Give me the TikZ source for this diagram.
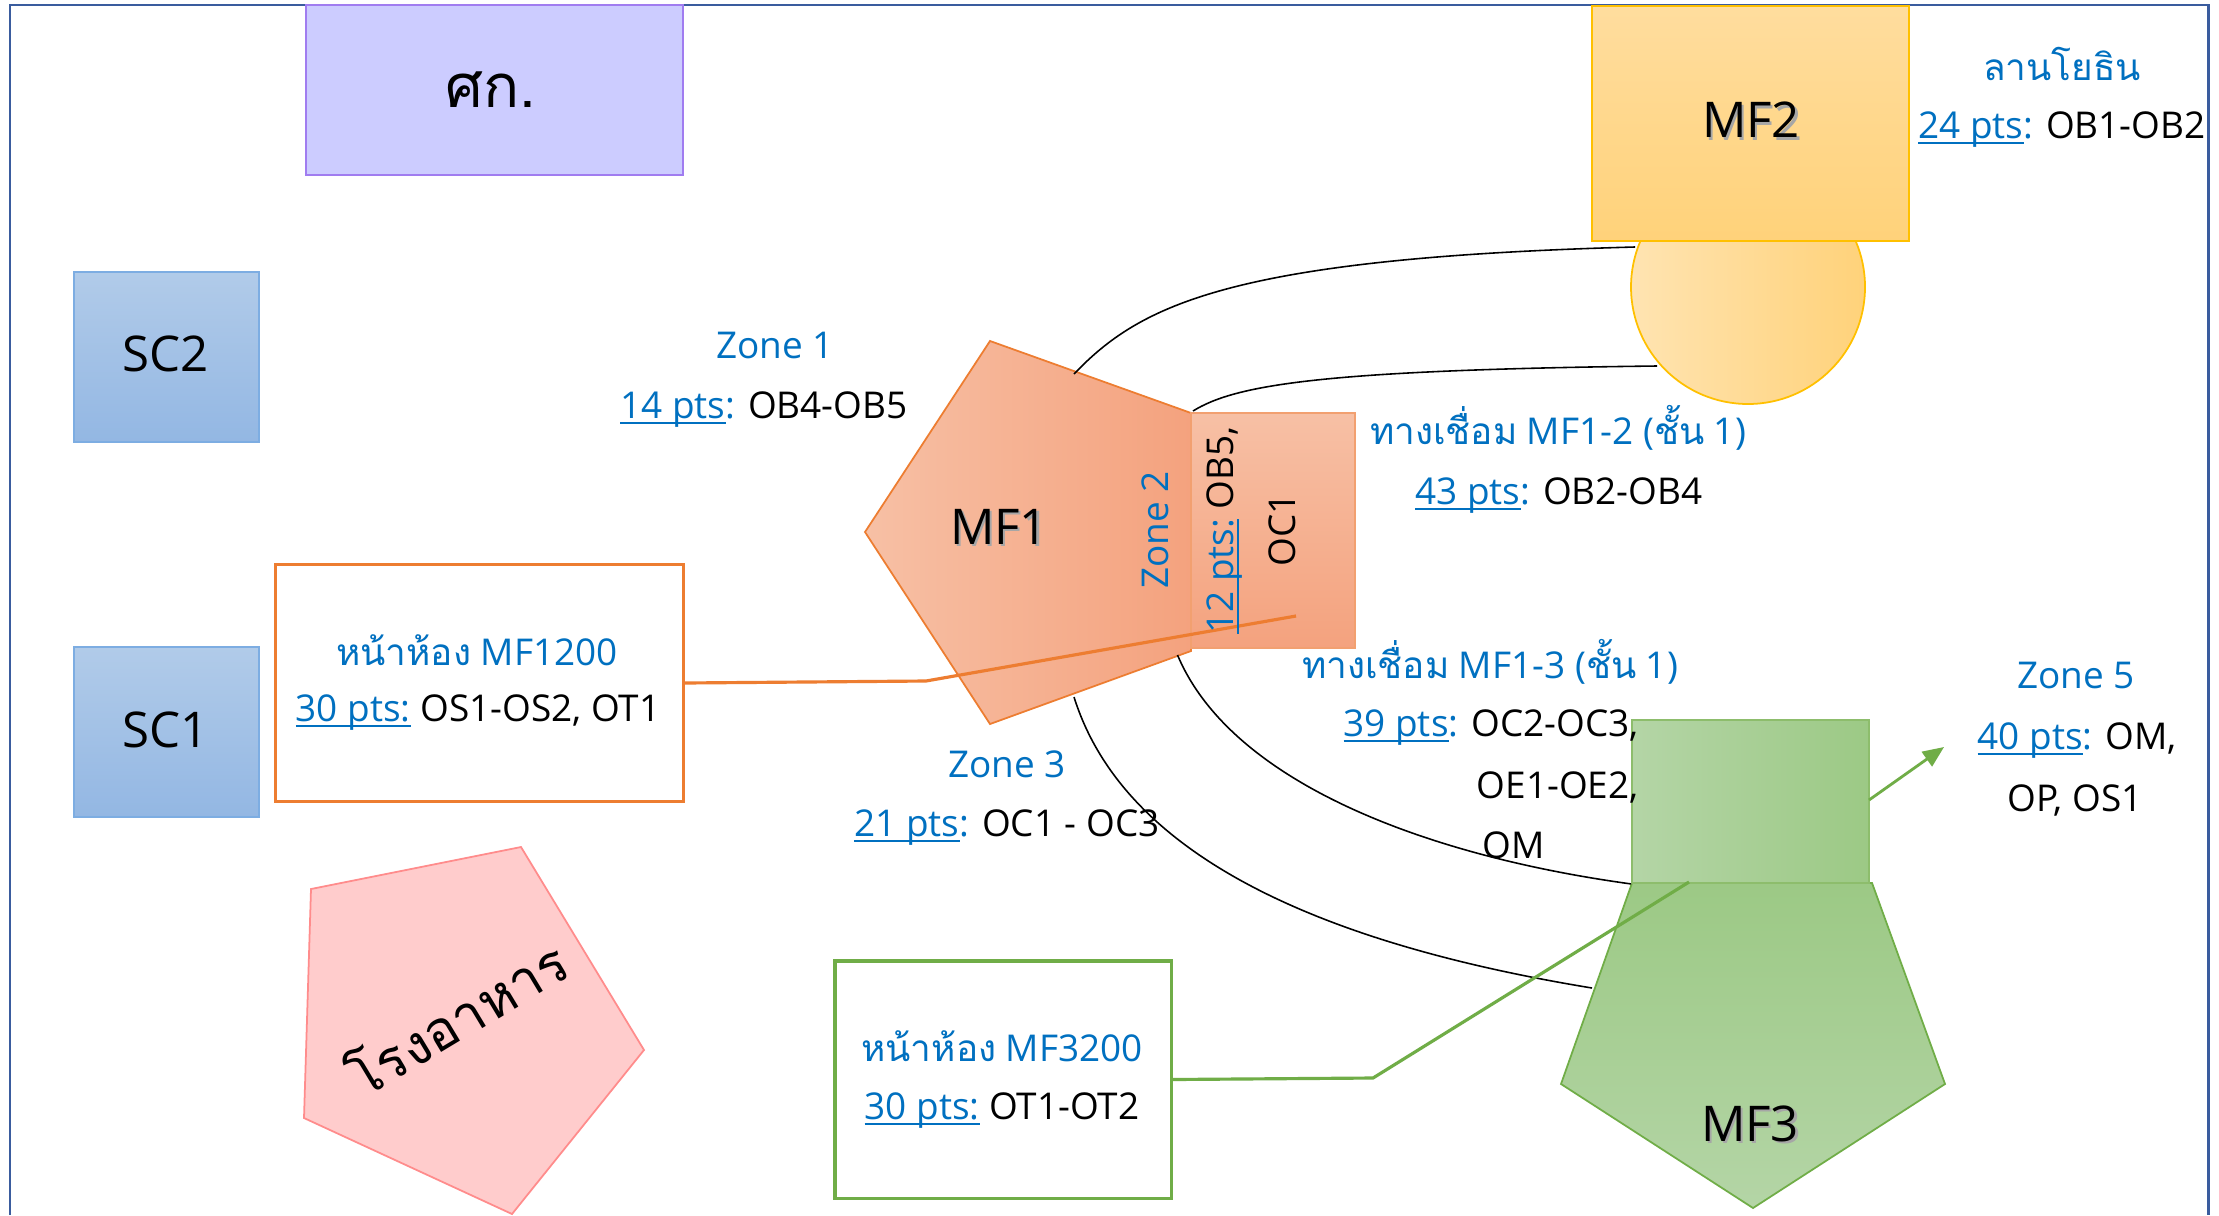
\documentclass[tikz,border=0pt]{standalone}
\usepackage{fontspec}
\setmainfont{Open Sans}
\newfontfamily\thai[Script=Thai]{Loma}
\usetikzlibrary{arrows.meta}
\definecolor{zblue}{HTML}{0070C0}
\definecolor{frameblue}{HTML}{3A5C9E}
\definecolor{lav}{HTML}{CCCCFF}
\definecolor{lavd}{HTML}{A07CF0}
\definecolor{scT}{HTML}{B1CBE9}
\definecolor{scB}{HTML}{93B7E3}
\definecolor{scD}{HTML}{7DADE2}
\definecolor{orD}{HTML}{ED7D31}
\definecolor{orL}{HTML}{F7C0A5}
\definecolor{orR}{HTML}{F4A27E}
\definecolor{orE}{HTML}{F2A070}
\definecolor{goT}{HTML}{FFDD9E}
\definecolor{goB}{HTML}{FFD27A}
\definecolor{goD}{HTML}{FFC000}
\definecolor{grL}{HTML}{B4D5A6}
\definecolor{grR}{HTML}{9CC985}
\definecolor{grD}{HTML}{70AD47}
\definecolor{pkF}{HTML}{FFCCCC}
\definecolor{pkD}{HTML}{FF8C8C}
\newcommand\ulx[1]{\setbox0\hbox{#1}\rlap{\rule[-1.5pt]{\wd0}{0.5pt}}\box0\relax}
\newcommand\shd[1]{\leavevmode\rlap{\kern0.7pt\raisebox{-0.7pt}{\textcolor{black!35}{#1}}}#1}
\newcommand\blk[1]{\textcolor{black}{#1}}
\begin{document}
\begin{tikzpicture}[x=0.01cm,y=-0.01cm,
  lbl/.style={font=\fontsize{10.5}{12.6}\selectfont, text=zblue, inner sep=0pt},
  big/.style={font=\fontsize{14}{16.8}\selectfont, inner sep=0pt, text=black},
  thinb/.style={line width=0.5pt},
  boxb/.style={line width=0.9pt, fill=white},
  conn/.style={line width=0.45pt, black},
  rectn/.style={rectangle, inner sep=0pt, thinb}]
\useasboundingbox (0,0) rectangle (2219,1215);
\fill[white] (0,0) rectangle (2219,1215);
% frame
\draw[frameblue, line width=0.85pt] (10,1215) -- (10,5) -- (2208,5) -- (2208,1215);

% rectangles
\node[rectn, draw=lavd, fill=lav, minimum width=3.77cm, minimum height=1.70cm] (sk) at (494.5,90) {};
\node[rectn, draw=scD, top color=scT, bottom color=scB, minimum width=1.85cm, minimum height=1.70cm] (sc2) at (166.5,357) {};
\node[rectn, draw=scD, top color=scT, bottom color=scB, minimum width=1.85cm, minimum height=1.70cm] (sc1) at (166.5,732) {};
\node[rectn, boxb, draw=orD, minimum width=4.07cm, minimum height=2.365cm] (b1200) at (479.5,683) {};
\node[rectn, boxb, draw=grD, minimum width=3.36cm, minimum height=2.37cm] (b3200) at (1003,1079.5) {};

% MF1 pentagon
\coordinate (m1t) at (990,341);
\coordinate (m1rt) at (1191,413);
\coordinate (m1rb) at (1191,651);
\coordinate (m1b) at (990,724);
\coordinate (m1l) at (865,532);
\path[draw=orD, thinb, left color=orL, right color=orR] (m1t) -- (m1rt) -- (m1rb) -- (m1b) -- (m1l) -- cycle;
% Zone 2 rectangle
\node[rectn, draw=orE, top color=orL, bottom color=orR, minimum width=1.64cm, minimum height=2.35cm] (z2r) at (1273,530.5) {};

% MF2 circle and rectangle
\coordinate (c2) at (1748,287);
\path[draw=goD, thinb, left color=goT!80!white, right color=goB] (c2) circle[radius=117];
\node[rectn, draw=goD, top color=goT, bottom color=goB, minimum width=3.17cm, minimum height=2.35cm] (mf2) at (1750.5,123.5) {};

% MF3 pentagon and rectangle
\coordinate (m3tl) at (1632,883);
\coordinate (m3tr) at (1872,883);
\coordinate (m3r) at (1945,1084);
\coordinate (m3b) at (1753,1208);
\coordinate (m3l) at (1561,1084);
\path[draw=grD, thinb, top color=grR, bottom color=grL] (m3tl) -- (m3tr) -- (m3r) -- (m3b) -- (m3l) -- cycle;
\node[rectn, draw=grD!80!white, left color=grL, right color=grR, minimum width=2.37cm, minimum height=1.63cm] (mf3r) at (1750.5,801.5) {};

% canteen pentagon
\coordinate (p1) at (311,889);
\coordinate (p2) at (521,847);
\coordinate (p3) at (644,1050);
\coordinate (p4) at (512,1214);
\coordinate (p5) at (304,1118);
\path[draw=pkD, thinb, fill=pkF] (p1) -- (p2) -- (p3) -- (p4) -- (p5) -- cycle;

% black connectors
\coordinate (a0) at (1074,374);
\coordinate (a1) at (1635,247);
\coordinate (bb0) at (1193,411);
\coordinate (bb1) at (1657,366);
\coordinate (cc0) at (1177.5,655);
\coordinate (dd0) at (1074,697);
\coordinate (dd1) at (1592,988);
\draw[conn] (a0) .. controls (1140,305) and (1230,258) .. (a1);
\draw[conn] (bb0) .. controls (1235,385) and (1320,370) .. (bb1);
\draw[conn] (cc0) .. controls (1230,780) and (1420,855) .. (mf3r.south west);
\draw[conn] (dd0) .. controls (1125,860) and (1330,945) .. (dd1);

% orange connector
\coordinate (o1) at (926,681);
\coordinate (o2) at (1296,616);
\draw[orD, line width=0.9pt] (b1200.east) -- (o1) -- (o2);
% green connector
\coordinate (g1) at (1373,1078);
\coordinate (g2) at (1689,882);
\draw[grD, line width=0.9pt] (b3200.east) -- (g1) -- (g2);
% green arrow
\coordinate (ga0) at (1869,800);
\coordinate (ga1) at (1944,747);
\draw[grD, line width=0.8pt, -{Triangle[length=6pt,width=5pt]}] (ga0) -- (ga1);

% big labels
\node[big] (tsk) at (491,90) {\thai\fontsize{17}{20}\selectfont ศก.};
\node[big] (tsc2) at (166,354) {SC2};
\node[big] (tsc1) at (166,730) {SC1};
\node[big] (tmf1) at (999,528) {\shd{MF1}};
\node[big] (tmf2) at (1751,121) {\shd{MF2}};
\node[big] (tmf3) at (1750,1125) {\shd{MF3}};
\node[big, rotate=31] (tcan) at (456,1016) {\thai\fontsize{15.5}{18}\selectfont โรงอาหาร};

% blue labels
\node[lbl] (z1) at (775,345) {Zone 1};
\node[lbl] (z1p) at (764,410) {\ulx{14 pts}: \blk{OB4-OB5}};
\node[lbl, rotate=90] (z2) at (1155,530) {Zone 2};
\node[lbl, rotate=90, align=center] (z2p) at (1251,530) {\ulx{12 pts:} \blk{OB5,}\\[5pt]\blk{OC1}};
\node[lbl] (ly) at (2062,64) {\thai ลานโยธิน};
\node[lbl] (lyp) at (2062,130) {\ulx{24 pts}: \blk{OB1-OB2}};
\node[lbl] (w12) at (1558,428) {{\thai ทางเชื่อม} MF1-2 ({\thai ชั้น} 1)};
\node[lbl] (w12p) at (1559,496) {\ulx{43 pts}: \blk{OB2-OB4}};
\node[lbl] (w13) at (1490,662) {{\thai ทางเชื่อม} MF1-3 ({\thai ชั้น} 1)};
\node[lbl] (w13p) at (1491,728) {\ulx{39 pts}: \blk{OC2-OC3,}};
\node[lbl, anchor=west] (w13q) at (1476,787) {\blk{OE1-OE2,}};
\node[lbl, anchor=west] (w13r) at (1482,845) {\blk{OM}};
\node[lbl] (z3) at (1007,764) {Zone 3};
\node[lbl] (z3p) at (1007,828) {\ulx{21 pts}: \blk{OC1 - OC3}};
\node[lbl] (z5) at (2076,675) {Zone 5};
\node[lbl] (z5p) at (2077,741) {\ulx{40 pts}: \blk{OM,}};
\node[lbl] (z5q) at (2075,800) {\blk{OP, OS1}};
\node[lbl] (r12) at (477,650) {{\thai หน้าห้อง} MF1200};
\node[lbl] (r12p) at (478,713) {\ulx{30 pts:} \blk{OS1-OS2, OT1}};
\node[lbl] (r32) at (1002,1046) {{\thai หน้าห้อง} MF3200};
\node[lbl] (r32p) at (1002,1111) {\ulx{30 pts:} \blk{OT1-OT2}};
\end{tikzpicture}
\end{document}
